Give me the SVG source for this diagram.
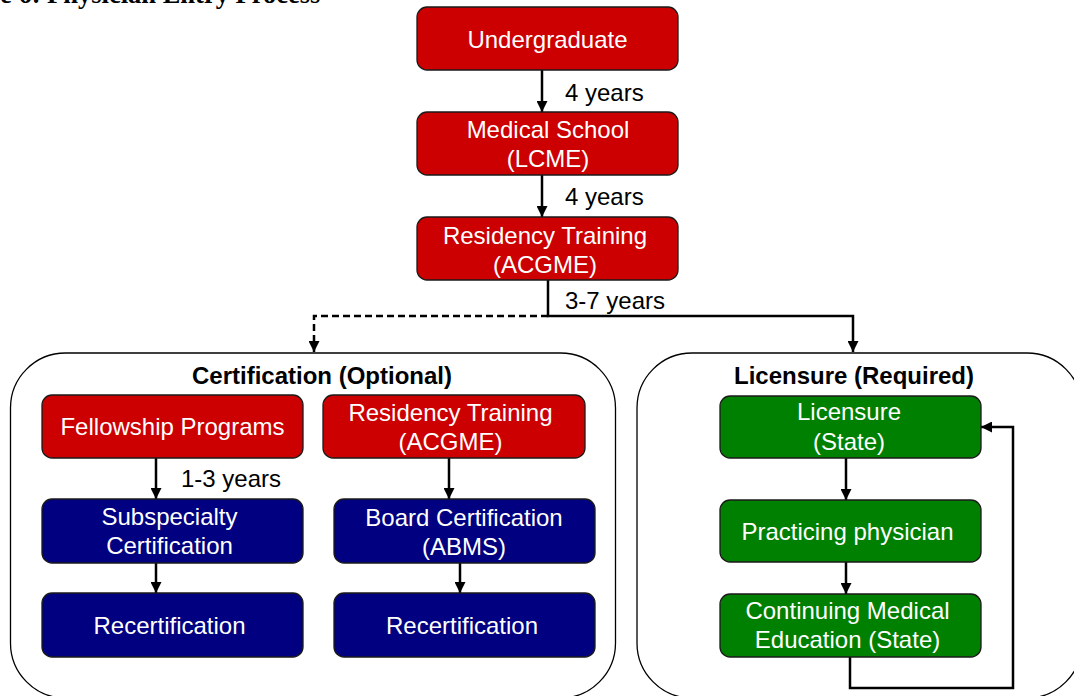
<svg xmlns="http://www.w3.org/2000/svg" width="1074" height="696" viewBox="0 0 1074 696">
  <style>
    .box { stroke: #1a1a1a; stroke-width: 1.3; }
    .red { fill: #cc0000; }
    .navy { fill: #000080; }
    .green { fill: #008000; }
    .frame { fill: #ffffff; stroke: #000000; stroke-width: 1.3; }
    .lbl { font-family: "Liberation Sans", Arial, sans-serif; font-size: 24px; fill: #ffffff; text-anchor: middle; }
    .note { font-family: "Liberation Sans", Arial, sans-serif; font-size: 24px; fill: #000000; }
    .head { font-family: "Liberation Sans", Arial, sans-serif; font-size: 24px; font-weight: bold; fill: #000000; text-anchor: middle; }
    .title { font-family: "Liberation Serif", "Times New Roman", serif; font-size: 26.5px; font-weight: bold; fill: #000000; }
    .wire { fill: none; stroke: #000000; stroke-width: 2.5; }
    .dash { stroke-dasharray: 7 4; }
  </style>
  <defs>
    <marker id="tip" viewBox="0 0 10 10" refX="10" refY="5" markerWidth="11" markerHeight="11" markerUnits="userSpaceOnUse" orient="auto">
      <path d="M0,0 L10,5 L0,10 Z" fill="#000000"/>
    </marker>
  </defs>

  <rect width="1074" height="696" fill="#ffffff"/>

  <!-- caption, clipped by the top edge -->
  <text class="title" x="0" y="3">e 6: Physician Entry Process</text>

  <!-- section frames -->
  <g id="certification-group">
    <rect class="frame" x="10.5" y="353" width="605" height="345" rx="55" ry="55"/>
    <text class="head" x="322" y="384">Certification (Optional)</text>
  </g>
  <g id="licensure-group">
    <rect class="frame" x="637" y="353" width="445" height="345" rx="55" ry="55"/>
    <text class="head" x="854" y="384">Licensure (Required)</text>
  </g>

  <!-- connectors -->
  <g id="connectors">
    <line class="wire" x1="542" y1="70" x2="542" y2="112" marker-end="url(#tip)"/>
    <text class="note" x="565" y="101">4 years</text>
    <line class="wire" x1="542" y1="175" x2="542" y2="217" marker-end="url(#tip)"/>
    <text class="note" x="565" y="205">4 years</text>
    <polyline class="wire" points="548,280 548,316 853,316 853,352" marker-end="url(#tip)"/>
    <polyline class="wire dash" points="548,316 314,316 314,352" marker-end="url(#tip)"/>
    <text class="note" x="565" y="309">3-7 years</text>

    <line class="wire" x1="156" y1="458" x2="156" y2="499" marker-end="url(#tip)"/>
    <text class="note" x="181" y="487">1-3 years</text>
    <line class="wire" x1="449" y1="458" x2="449" y2="499" marker-end="url(#tip)"/>
    <line class="wire" x1="156" y1="563" x2="156" y2="593" marker-end="url(#tip)"/>
    <line class="wire" x1="460" y1="563" x2="460" y2="593" marker-end="url(#tip)"/>

    <line class="wire" x1="846" y1="458" x2="846" y2="500" marker-end="url(#tip)"/>
    <line class="wire" x1="846" y1="562" x2="846" y2="594" marker-end="url(#tip)"/>
    <polyline class="wire" points="850,657 850,688 1013,688 1013,427 981,427" marker-end="url(#tip)"/>
  </g>

  <!-- pathway nodes -->
  <g id="undergraduate">
    <rect class="box red" x="417" y="7" width="261" height="63" rx="10"/>
    <text class="lbl" x="547.5" y="48">Undergraduate</text>
  </g>
  <g id="medical-school">
    <rect class="box red" x="417" y="112" width="261" height="63" rx="10"/>
    <text class="lbl" x="548" y="138">Medical School</text>
    <text class="lbl" x="548" y="167">(LCME)</text>
  </g>
  <g id="residency-main">
    <rect class="box red" x="417" y="217" width="261" height="63" rx="10"/>
    <text class="lbl" x="545" y="244">Residency Training</text>
    <text class="lbl" x="545" y="273">(ACGME)</text>
  </g>

  <g id="fellowship">
    <rect class="box red" x="42" y="395" width="261" height="63" rx="10"/>
    <text class="lbl" x="172.5" y="435">Fellowship Programs</text>
  </g>
  <g id="residency-cert">
    <rect class="box red" x="323" y="395" width="262" height="63" rx="10"/>
    <text class="lbl" x="450.5" y="421">Residency Training</text>
    <text class="lbl" x="450.5" y="450">(ACGME)</text>
  </g>
  <g id="subspecialty">
    <rect class="box navy" x="42" y="499" width="261" height="64" rx="10"/>
    <text class="lbl" x="169.5" y="525">Subspecialty</text>
    <text class="lbl" x="169.5" y="554">Certification</text>
  </g>
  <g id="board-cert">
    <rect class="box navy" x="334" y="499" width="261" height="64" rx="10"/>
    <text class="lbl" x="464" y="526">Board Certification</text>
    <text class="lbl" x="464" y="555">(ABMS)</text>
  </g>
  <g id="recert-sub">
    <rect class="box navy" x="42" y="593" width="261" height="64" rx="10"/>
    <text class="lbl" x="169.5" y="634">Recertification</text>
  </g>
  <g id="recert-board">
    <rect class="box navy" x="334" y="593" width="261" height="64" rx="10"/>
    <text class="lbl" x="462" y="634">Recertification</text>
  </g>

  <g id="licensure">
    <rect class="box green" x="720" y="396" width="261" height="62" rx="10"/>
    <text class="lbl" x="849" y="420">Licensure</text>
    <text class="lbl" x="849" y="450">(State)</text>
  </g>
  <g id="practicing">
    <rect class="box green" x="720" y="500" width="261" height="62" rx="10"/>
    <text class="lbl" x="847.5" y="540">Practicing physician</text>
  </g>
  <g id="cme">
    <rect class="box green" x="720" y="594" width="261" height="63" rx="10"/>
    <text class="lbl" x="847.5" y="619">Continuing Medical</text>
    <text class="lbl" x="847.5" y="648">Education (State)</text>
  </g>
</svg>
